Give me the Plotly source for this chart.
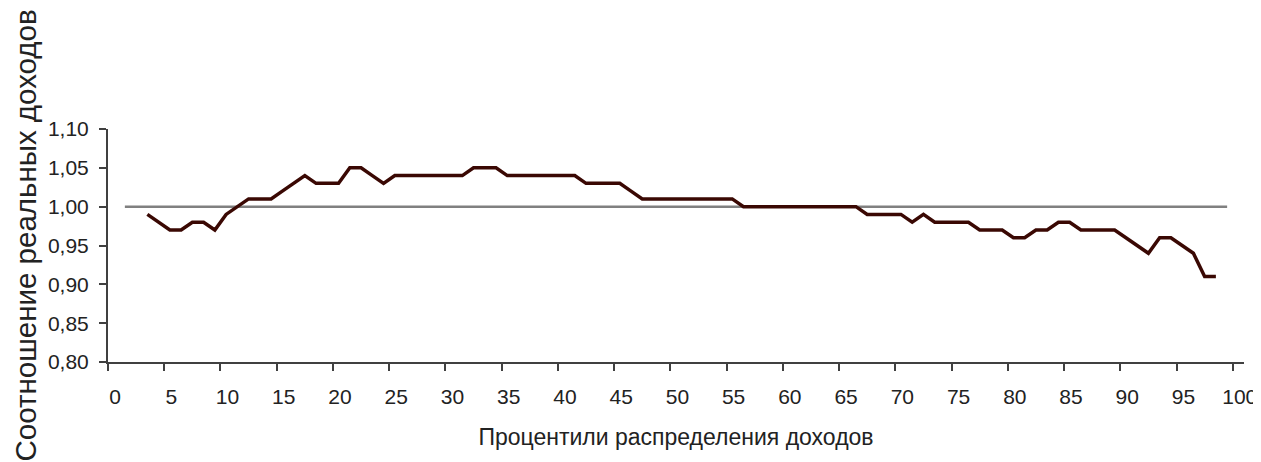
import plotly.graph_objects as go

# Percentiles of the income distribution (series plotted at category centres)
percentiles = list(range(3, 99))
ratio = [
    0.99, 0.98, 0.97, 0.97, 0.98, 0.98, 0.97, 0.99, 1.00, 1.01,   # 3-12
    1.01, 1.01, 1.02, 1.03, 1.04, 1.03, 1.03, 1.03, 1.05, 1.05,   # 13-22
    1.04, 1.03, 1.04, 1.04, 1.04, 1.04, 1.04, 1.04, 1.04, 1.05,   # 23-32
    1.05, 1.05, 1.04, 1.04, 1.04, 1.04, 1.04, 1.04, 1.04, 1.03,   # 33-42
    1.03, 1.03, 1.03, 1.02, 1.01, 1.01, 1.01, 1.01, 1.01, 1.01,   # 43-52
    1.01, 1.01, 1.01, 1.00, 1.00, 1.00, 1.00, 1.00, 1.00, 1.00,   # 53-62
    1.00, 1.00, 1.00, 1.00, 0.99, 0.99, 0.99, 0.99, 0.98, 0.99,   # 63-72
    0.98, 0.98, 0.98, 0.98, 0.97, 0.97, 0.97, 0.96, 0.96, 0.97,   # 73-82
    0.97, 0.98, 0.98, 0.97, 0.97, 0.97, 0.97, 0.96, 0.95, 0.94,   # 83-92
    0.96, 0.96, 0.95, 0.94, 0.91, 0.91,                           # 93-98
]

baseline_percentiles = [1, 99]
baseline_values = [1.00, 1.00]

x_ticks = list(range(0, 101, 5))
y_ticks = [0.80, 0.85, 0.90, 0.95, 1.00, 1.05, 1.10]
y_tick_labels = ["0,80", "0,85", "0,90", "0,95", "1,00", "1,05", "1,10"]

x_title = "Процентили распределения доходов"
y_title = "Соотношение реальных доходов"

CENTER = 0.5  # series drawn at the centre of each percentile interval

fig = go.Figure()
fig.add_trace(go.Scatter(
    x=[p + CENTER for p in baseline_percentiles], y=baseline_values,
    mode="lines", line=dict(color="#808080", width=2.5),
    showlegend=False, hoverinfo="skip",
))
fig.add_trace(go.Scatter(
    x=[p + CENTER for p in percentiles], y=ratio,
    mode="lines", line=dict(color="#3a0803", width=3.5),
    showlegend=False,
))

font_family = "Liberation Sans, Arial, sans-serif"
axis_color = "#404040"
text_color = "#222222"

fig.update_layout(
    width=1261, height=462,
    margin=dict(l=100, r=22, t=121, b=108),
    plot_bgcolor="white", paper_bgcolor="white",
    font=dict(family=font_family, color=text_color, size=21),
    showlegend=False,
    annotations=[dict(
        text=y_title, textangle=-90,
        xref="paper", yref="paper", x=0, y=0.5,
        xanchor="center", yanchor="middle",
        xshift=-83, yshift=10,
        showarrow=False,
        font=dict(size=29.5, family=font_family, color=text_color),
    )],
)
fig.update_xaxes(
    range=[0, 101], tickmode="array", tickvals=x_ticks,
    showgrid=False, zeroline=False,
    showline=True, linecolor=axis_color, linewidth=2,
    ticks="outside", ticklen=7, tickwidth=2, tickcolor=axis_color,
    tickfont=dict(size=21, family=font_family, color=text_color),
    ticklabelstandoff=8, ticklabelshift=7,
    title=dict(text=x_title, font=dict(size=23, family=font_family, color=text_color), standoff=22),
)
fig.update_yaxes(
    range=[0.80, 1.10], tickmode="array", tickvals=y_ticks, ticktext=y_tick_labels,
    showgrid=False, zeroline=False,
    showline=True, linecolor=axis_color, linewidth=2,
    ticks="outside", ticklen=7, tickwidth=2, tickcolor=axis_color,
    tickfont=dict(size=21, family=font_family, color=text_color),
    ticklabelstandoff=6,
)

fig.write_html("out.html")
